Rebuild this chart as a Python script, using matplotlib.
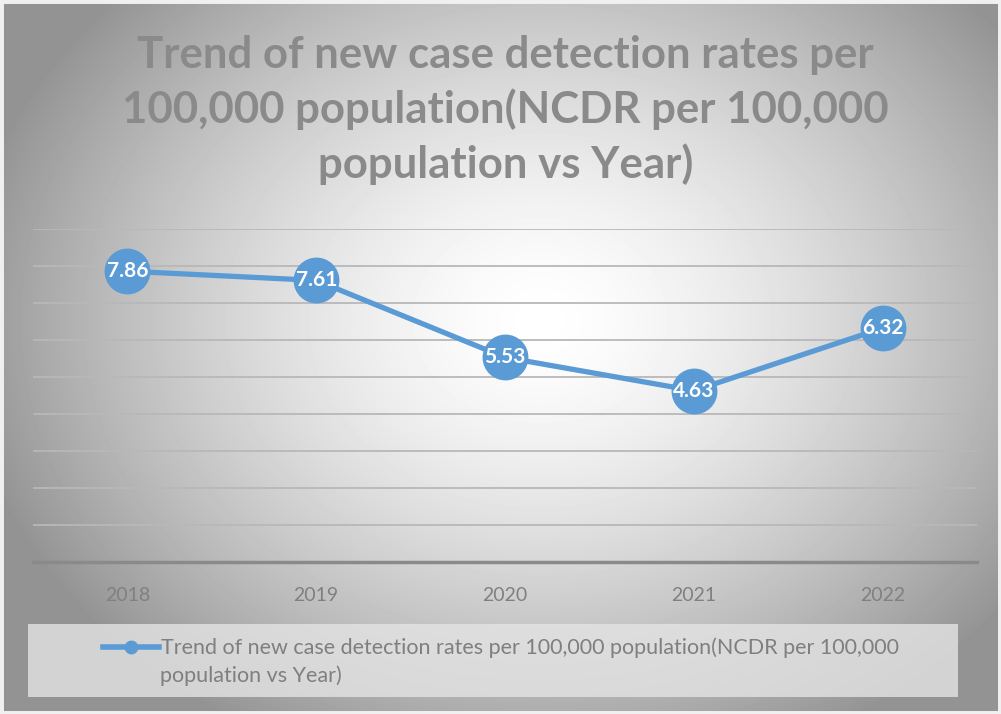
import numpy as np
import matplotlib
matplotlib.use("Agg")
import matplotlib.pyplot as plt
from matplotlib.lines import Line2D

years = ["2018", "2019", "2020", "2021", "2022"]
ncdr = [7.86, 7.61, 5.53, 4.63, 6.32]
series_line1 = "Trend of new case detection rates per 100,000 population(NCDR per 100,000"
series_line2 = "population vs Year)"
title = "Trend of new case detection rates per\n100,000 population(NCDR per 100,000\npopulation vs Year)"

plt.rcParams['font.family'] = ['Lato', 'DejaVu Sans']
blue = '#5b9bd5'
grey_txt = '#808080'

fig = plt.figure(figsize=(10.01, 7.14), dpi=100)

# radial gradient background
bg = fig.add_axes([0, 0, 1, 1], zorder=-10)
yy, xx = np.mgrid[0:714, 0:1001]
d = np.sqrt(((xx - 540) / 580.0) ** 2 + ((yy - 320) / 470.0) ** 2)
d = np.clip(d, 0, 1)
shade = 1.0 - 0.42 * d ** 1.5
bg.imshow(shade, cmap='gray', vmin=0, vmax=1, aspect='auto', extent=[0, 1, 0, 1])
bg.set_axis_off()
fig.patches.append(plt.Rectangle((0, 0), 1, 1, transform=fig.transFigure,
                                 fill=False, edgecolor='#f0f0f0', lw=5))
# legend panel
fig.patches.append(plt.Rectangle((28 / 1001, 1 - 697 / 714), 930 / 1001, 73 / 714,
                                 transform=fig.transFigure, facecolor='#e4e4e4',
                                 alpha=0.8, edgecolor='none', zorder=0))

ax = fig.add_axes([33 / 1001, 1 - 562 / 714, 944 / 1001, 333 / 714])
ax.patch.set_alpha(0)
x = np.arange(len(years))
ax.plot(x, ncdr, color=blue, lw=3.8, marker='o', ms=32, zorder=3)
for xi, v in zip(x, ncdr):
    ax.text(xi, v, f"{v:.2f}", ha='center', va='center', color='white',
            fontsize=15, fontweight='bold', zorder=4)

ax.set_xlim(-0.5, 4.5)
ax.set_ylim(0, 9)
ax.set_yticks(np.arange(0, 10))
ax.yaxis.grid(True, color='#b8b8b8', lw=1.3)
ax.set_yticklabels([])
ax.tick_params(axis='y', length=0)
ax.set_xticks(x)
ax.set_xticklabels(years, color=grey_txt, fontsize=14)
ax.tick_params(axis='x', length=0, pad=18)
for s in ['top', 'right', 'left']:
    ax.spines[s].set_visible(False)
ax.spines['bottom'].set_color('#8a8a8a')
ax.spines['bottom'].set_linewidth(2.5)

fig.text(0.505, 1 - 110 / 714, title, ha='center', va='center', color='#8a8a8a',
         fontsize=31.5, fontweight='bold', linespacing=1.38)

handle = Line2D([], [], color=blue, lw=4, marker='o', ms=9)
leg = fig.legend([handle], [series_line1], loc='center left',
                 bbox_to_anchor=(103 / 1001, 1 - 648 / 714), fontsize=15.5,
                 frameon=False, handlelength=2.6, handletextpad=0.1,
                 borderpad=0.0, borderaxespad=0.0, labelcolor='#7f7f7f')
fig.text(160 / 1001, 1 - 676 / 714, series_line2, ha='left', va='center',
         fontsize=15.5, color='#7f7f7f')

fig.savefig("out.png", dpi=100)
